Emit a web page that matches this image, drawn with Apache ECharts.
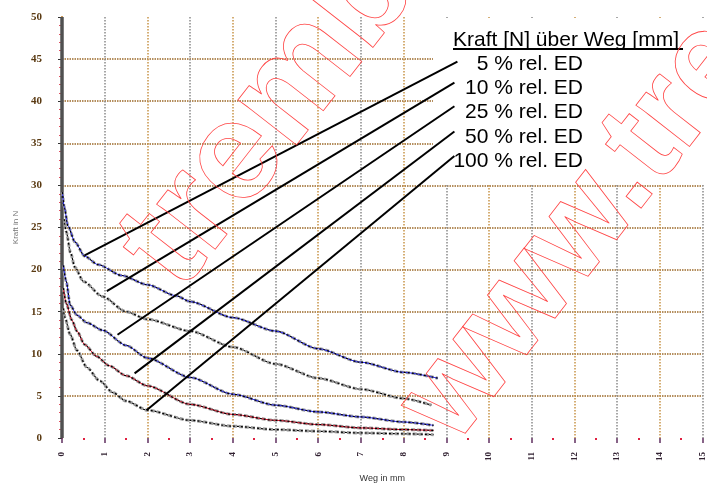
<!DOCTYPE html>
<html>
<head>
<meta charset="utf-8">
<script src="https://cdn.jsdelivr.net/npm/echarts@6/dist/echarts.min.js"></script>
<style>html,body{margin:0;padding:0;background:#fff}#c{width:707px;height:488px}</style>
</head>
<body>
<div id="c"></div>
<script>
// ---- data ----
const xTicks = [0,1,2,3,4,5,6,7,8,9,10,11,12,13,14,15];
const yTicks = [0,5,10,15,20,25,30,35,40,45,50];

const x5   = [0.01,0.05,0.14,0.3,0.53,0.84,1.4,2,2.67,3,4,5,6,7,8,8.8];
const y5   = [29.2,27.5,25.2,23.3,21.6,20.6,19.3,18.2,16.9,16.2,14.3,12.7,10.6,9.0,7.8,7.1];
const x10  = [0.05,0.1,0.2,0.3,0.5,0.95,1.5,2,3,4,5,6,7,8,8.65];
const y10  = [26,24.5,22,20.3,18.6,16.8,15,14.1,12.7,10.8,8.8,7.1,5.8,4.7,3.9];
const x25  = [0.03,0.1,0.19,0.35,0.58,0.95,1.5,2,3,4,5,6,7,8,8.7];
const y25  = [20.5,18.6,15.8,14.6,13.7,12.8,11,9.5,7.2,5.2,3.9,3.1,2.5,1.9,1.5];
const x50  = [0.03,0.1,0.23,0.35,0.53,0.81,1.1,1.5,2,3,4,5,6,7,8,8.7];
const y50  = [17.8,16,14,12.7,11.1,9.7,8.6,7.4,6.2,4.0,2.8,2.1,1.6,1.2,1.0,0.9];
const x100 = [0.03,0.07,0.19,0.35,0.58,0.88,1.19,1.5,2,3,4,5,6,7,8,8.7];
const y100 = [15.4,14.3,12.3,10.4,8.4,6.8,5.4,4.4,3.3,2.1,1.4,1.0,0.8,0.6,0.5,0.4];

const legendTitle = 'Kraft [N] über Weg [mm]';
const legendLabels = ['5 % rel. ED','10 % rel. ED','25 % rel. ED','50 % rel. ED','100 % rel. ED'];
// callout line endpoints in data units: [curve point, label point]
const callouts = [
  [[0.53,21.7],[9.26,44.7]],
  [[1.05,17.45],[9.19,42.2]],
  [[1.30,12.26],[9.19,39.4]],
  [[1.70,7.67],[9.19,36.4]],
  [[1.98,3.30],[9.19,33.5]]
];
const watermarkTop = 'tremba.de';
const watermarkBottom = 'www.tremba.de';

// ---- chart ----
const chart = echarts.init(document.getElementById('c'), null, {renderer:'canvas'});
const zip = (xs, ys) => xs.map((x,i)=>[x, ys[i]]);

const curves = [
  {d: zip(x5,y5),     col: '#2a2aff'},
  {d: zip(x10,y10),   col: null},
  {d: zip(x25,y25),   col: '#2a2aff'},
  {d: zip(x50,y50),   col: '#e0102a'},
  {d: zip(x100,y100), col: null}
];

const series = [];
// thick line at x = 0
series.push({type:'line', data:[[0,0],[0,50]], symbol:'none', silent:true,
  lineStyle:{color:'#505050', width:3.5}, z:3, animation:false});
curves.forEach(c => {
  series.push({type:'line', data:c.d, symbol:'none', smooth:0.25, smoothMonotone:'x',
    lineStyle:{color:'#9a9a9a', width:3, type:[4,2]}, z:3, animation:false});
  if (c.col) series.push({type:'line', data:c.d, symbol:'none', smooth:0.25, smoothMonotone:'x',
    lineStyle:{color:c.col, width:1}, z:4, animation:false});
  series.push({type:'line', data:c.d, symbol:'none', smooth:0.25, smoothMonotone:'x',
    lineStyle:{color:'#000', width:1.2, type:[2,2]}, z:5, animation:false});
});
callouts.forEach(seg => {
  series.push({type:'line', data:seg, symbol:'none',
    lineStyle:{color:'#000', width:2}, z:6, animation:false});
});

const rot = 52*Math.PI/180;
const graphics = [
  {type:'rect', shape:{x:433, y:18, width:274, height:167}, style:{fill:'#fff'}, z:1, silent:true},
  {type:'text', x:453, y:40, z:10, style:{text:legendTitle, font:'21px "Liberation Sans", Arial', fill:'#000', textVerticalAlign:'middle'}},
  {type:'line', shape:{x1:453, y1:49, x2:683, y2:49}, style:{stroke:'#000', lineWidth:2}, z:10}
];
legendLabels.forEach((t,i) => {
  graphics.push({type:'text', x:583, y:[64,88,112,137,161][i], z:10,
    style:{text:t, font:'21px "Liberation Sans", Arial', fill:'#000', textAlign:'right', textVerticalAlign:'middle'}});
});
graphics.push({type:'text', x:150, y:270, rotation:rot, z:20, silent:true,
  style:{text:watermarkTop, font:'bold 140px "Liberation Sans", Arial', fill:'rgba(0,0,0,0)', stroke:'#ff4545', lineWidth:0.8, textVerticalAlign:'middle'}});
graphics.push({type:'text', x:427, y:425, rotation:rot, z:20, silent:true,
  style:{text:watermarkBottom, font:'bold 128px "Liberation Sans", Arial', fill:'rgba(0,0,0,0)', stroke:'#ff4545', lineWidth:0.8, textVerticalAlign:'middle'}});

chart.setOption({
  animation:false,
  backgroundColor:'#fff',
  grid:{left:62, right:0, top:17, bottom:47, containLabel:false},
  xAxis:{
    type:'value', min:xTicks[0], max:xTicks[xTicks.length-1], interval:1, offset:6,
    name:'Weg in mm', nameLocation:'middle', nameGap:30,
    nameTextStyle:{fontSize:9, color:'#333', fontFamily:'Liberation Sans'},
    axisLine:{show:false},
    axisTick:{show:true, length:5, lineStyle:{color:'#603060', width:1.5}},
    minorTick:{show:true, splitNumber:2, length:2, lineStyle:{color:'#e02040', width:2}},
    axisLabel:{rotate:90, fontSize:9, fontWeight:'bold', fontFamily:'Liberation Serif', color:'#302030', margin:8},
    splitLine:{show:true, showMinLine:false, lineStyle:{color:['#8a8a8a','#c89448'], width:1.5, type:[1.5,1.5]}},
    minorSplitLine:{show:false}
  },
  yAxis:{
    type:'value', min:yTicks[0], max:yTicks[yTicks.length-1], interval:5, offset:14,
    name:'Kraft in N', nameLocation:'middle', nameGap:28, nameRotate:90,
    nameTextStyle:{fontSize:8, color:'#777', fontFamily:'Liberation Sans'},
    axisLine:{show:true, lineStyle:{color:'#c07a20', width:2}},
    axisTick:{show:true, length:4, lineStyle:{color:'#333', width:1}},
    minorTick:{show:true, splitNumber:5, length:3, lineStyle:{color:'#e05060', width:1}},
    axisLabel:{fontSize:11, fontWeight:'bold', fontFamily:'Liberation Serif', color:'#5a3a12', margin:6},
    splitLine:{show:true, showMinLine:false, showMaxLine:false, lineStyle:{color:'#9c6a2a', width:1.5, type:[1.5,1]}}
  },
  graphic:graphics,
  series:series
});
</script>
</body>
</html>
